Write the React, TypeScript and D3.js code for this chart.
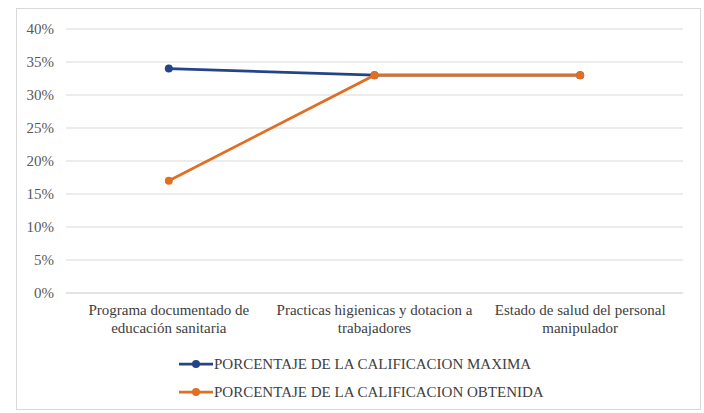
import React from "react";
import * as d3 from "d3";

const categories = [
  ["Programa documentado de", "educación sanitaria"],
  ["Practicas higienicas y dotacion a", "trabajadores"],
  ["Estado de salud del personal", "manipulador"],
];
const seriesNames = [
  "PORCENTAJE DE LA CALIFICACION MAXIMA",
  "PORCENTAJE DE LA CALIFICACION OBTENIDA",
];
const maxima = [0.34, 0.33, 0.33];
const obtenida = [0.17, 0.33, 0.33];
const yTicks = [0, 0.05, 0.1, 0.15, 0.2, 0.25, 0.3, 0.35, 0.4];
const colors = ["#24448a", "#e06f23"];

const font = "Liberation Serif";

export default function App() {
  const W = 704, H = 413;
  const x = d3.scaleBand<number>().domain([0, 1, 2]).range([66, 683]);
  const y = d3.scaleLinear().domain([0, 0.4]).range([293, 29]);
  const cx = (i: number) => x(i)! + x.bandwidth() / 2;
  const line = d3
    .line<number>()
    .x((_, i) => cx(i))
    .y((d) => y(d));
  const fmt = d3.format(".0%");
  const series = [maxima, obtenida];
  const ts = { fontFamily: font };
  return (
    <svg width={W} height={H} style={{ position: "absolute", left: 0, top: 0, fontFamily: font }} fontFamily={font}>
      <rect x={0} y={0} width={W} height={H} fill="#fff" />
      <rect x={16.5} y={8.5} width={684} height={401} fill="none" stroke="#d9d9d9" />
      {yTicks.map((t) => (
        <line key={"g" + t} x1={66} x2={683} y1={y(t)} y2={y(t)} stroke={t === 0 ? "#c8c8c8" : "#d9d9d9"} strokeWidth={1} />
      ))}
      {yTicks.map((t) => (
        <text key={"t" + t} x={54} y={y(t) + 5} textAnchor="end" fontSize={15} fill="#595959" fontFamily={font} style={ts}>
          {fmt(t)}
        </text>
      ))}
      {categories.map((c, i) => (
        <g key={"c" + i}>
          <text x={cx(i)} y={315} textAnchor="middle" fontSize={15} fill="#404040" fontFamily={font} style={ts}>
            {c[0]}
          </text>
          <text x={cx(i)} y={333} textAnchor="middle" fontSize={15} fill="#404040" fontFamily={font} style={ts}>
            {c[1]}
          </text>
        </g>
      ))}
      {series.map((s, k) => (
        <g key={"s" + k}>
          <path d={line(s)!} fill="none" stroke={colors[k]} strokeWidth={2.75} />
          {s.map((v, i) => (
            <circle key={i} cx={cx(i)} cy={y(v)} r={4} fill={colors[k]} />
          ))}
        </g>
      ))}
      {seriesNames.map((n, k) => (
        <g key={"l" + k}>
          <line x1={179} x2={213} y1={364 + k * 28} y2={364 + k * 28} stroke={colors[k]} strokeWidth={2.75} />
          <circle cx={196} cy={364 + k * 28} r={4} fill={colors[k]} />
          <text x={214} y={369 + k * 28} fontSize={15} fill="#404040" fontFamily={font} style={ts}>
            {n}
          </text>
        </g>
      ))}
    </svg>
  );
}
